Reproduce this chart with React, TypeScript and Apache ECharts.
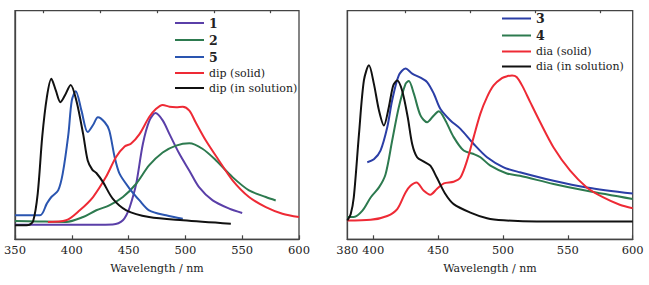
import React, { useEffect, useRef } from "react";
import * as echarts from "echarts";

// ---- Left panel data (wavelength / intensity, arbitrary units 0-100) ----
const wl1 = [350, 380, 420, 436, 441, 445, 448, 451, 456.7, 462.6, 468.4, 473.7, 480, 486, 494.7, 503.5, 512, 524, 538.6, 550];
const in1 = [6.4, 6.4, 6.4, 6.5, 7, 8.3, 10.5, 14, 24.3, 41.8, 52, 55.2, 52, 46, 37.4, 30, 22.8, 17, 13.4, 11.5];

const wl2 = [350, 370, 395, 410, 421.6, 433, 445, 456.7, 468, 480, 491.8, 503.5, 515, 527, 541.5, 556, 570.8, 579.5];
const in2 = [8, 7.8, 7.6, 9.75, 12.7, 14.8, 18.5, 24.3, 32.3, 38, 41, 42, 39.6, 34.5, 27.2, 21.4, 18.5, 17];

const wl5 = [350, 372, 378, 382, 388, 392, 397, 400, 403.5, 408.5, 414, 418.7, 423, 429, 433, 437.7, 442, 451, 459.6, 468, 483, 497.7];
const in5 = [10.5, 10.5, 15.6, 18.5, 21.4, 28.7, 46, 60.7, 64.8, 56.3, 46.9, 50, 53.4, 51.2, 47.6, 36, 28.7, 22.1, 17, 12.7, 10.5, 9];

const wlDipS = [379, 395, 407, 418.7, 430, 439, 446.5, 452, 459.6, 468, 474, 480, 486, 491.8, 497.7, 503.5, 509, 518, 529.5, 541.5, 556, 570.8, 585.4, 600];
const inDipS = [7.6, 8.3, 12.7, 18.5, 27.2, 36, 40.6, 41.8, 46, 53.4, 57, 58.8, 58, 57.8, 58, 56.3, 51.2, 43.2, 34.5, 25.8, 18.5, 14.1, 11.2, 9.75];

const wlDipL = [350, 362, 366, 370, 374, 378, 382, 386, 390, 394, 399, 404, 410, 414, 418, 421.6, 427.5, 436, 448, 468, 498, 540];
const inDipL = [6.1, 6.3, 8, 20, 45, 62, 70.2, 65, 60, 63, 67.5, 60.7, 46, 34.5, 30.5, 29, 25, 17.8, 12.7, 9.75, 8.3, 6.8];

// ---- Right panel data ----
const wl3 = [395.4, 400.5, 405.6, 410.8, 414.6, 419.7, 424.9, 430, 436.4, 441.5, 446.7, 451.8, 459.5, 467.2, 477.4, 487.7, 500.5, 513, 539, 564.6, 600];
const in3 = [33.7, 35, 38.8, 49, 60.8, 71.7, 74.7, 72.5, 70.7, 68.8, 63.7, 57, 52, 48.3, 41.7, 35.9, 31.5, 29.3, 25.6, 22.7, 20];

const wl4 = [380, 385, 391.5, 398, 404.4, 409.5, 414.6, 419.7, 424.9, 427.4, 431.3, 436.4, 441.5, 446.7, 450.5, 455.6, 462, 469.7, 477.4, 482.6, 490.3, 503, 513, 539, 564.6, 600];
const in4 = [9.8, 9.8, 12.4, 18.3, 22.7, 28.5, 43.2, 57.8, 68, 69.3, 63.7, 54.2, 51.2, 54.2, 56, 52, 44.7, 38.8, 37.3, 35.9, 32.2, 28.8, 27.8, 24.2, 21.2, 17.6];

const wlDiaS = [380, 398, 410.8, 418.5, 424.9, 428.7, 433.3, 439, 444, 449, 454.4, 462, 467.2, 472.3, 477.4, 482.6, 487.7, 492.8, 499.2, 503.5, 507, 510.5, 515, 521, 528.7, 539, 551.8, 564.6, 577.4, 590, 600];
const inDiaS = [8.2, 8.5, 10.2, 13.2, 20.5, 23.4, 24.9, 21.2, 19.5, 22, 24.5, 25.2, 27, 34.4, 44.7, 55, 62.2, 67.3, 70.5, 71.4, 71.7, 71, 67, 60, 51.2, 40.2, 30, 22.7, 18.3, 15.1, 13.6];

const wlDiaL = [380, 382.6, 385, 389, 392.8, 396.7, 400.5, 404.4, 408.2, 412, 415.4, 418.5, 422.3, 426.6, 430, 433.8, 439, 444, 449, 455.6, 462, 474.9, 487.7, 500.5, 526, 600];
const inDiaL = [8.2, 11, 18.3, 46, 69.5, 76.1, 68, 56.4, 49.8, 57.8, 67.3, 69.5, 65, 53.4, 41.7, 35.9, 34, 32.2, 27, 19.8, 15.4, 11.7, 9.2, 8.3, 7.8, 7.8];

// ---- Axis ticks ----
const leftMajor = [350, 400, 450, 500, 550, 600];
const leftMinor = [375, 425, 475, 525, 575];
const rightLabels = [380, 400, 450, 500, 550, 600];
const rightMajor = [400, 450, 500, 550, 600];
const rightMinor = [425, 475, 525, 575];

const FONT = "DejaVu Serif";
const TEXT = "#222";
const AXIS = "#444";
const FS = 11;

const zip = (xs: number[], ys: number[]) => xs.map((x, i) => [x, ys[i]]);

export default function App() {
  const ref = useRef<HTMLDivElement>(null);
  useEffect(() => {
    if (!ref.current) return;
    const chart = echarts.init(ref.current, undefined, { renderer: "svg" });

    const mainX = (gridIndex: number, min: number, max: number, labels: number[], ticks: number[]) => ({
      type: "value",
      gridIndex,
      min,
      max,
      name: "Wavelength / nm",
      nameLocation: "middle",
      nameGap: 24,
      nameTextStyle: { fontFamily: FONT, fontWeight: "normal", fontSize: FS, color: TEXT },
      axisLine: { show: true, lineStyle: { color: AXIS, width: 1.3 } },
      axisTick: { show: true, inside: true, length: 4, customValues: ticks, lineStyle: { color: AXIS, width: 1.2 } },
      axisLabel: { show: true, customValues: labels, margin: 4.5, fontFamily: FONT, fontWeight: "normal", fontSize: FS + 0.5, color: TEXT },
      splitLine: { show: false },
    });
    const minorX = (gridIndex: number, min: number, max: number, ticks: number[]) => ({
      type: "value",
      gridIndex,
      min,
      max,
      axisLine: { show: false },
      axisTick: { show: true, inside: true, length: 2.5, customValues: ticks, lineStyle: { color: AXIS, width: 1.2 } },
      axisLabel: { show: false },
      splitLine: { show: false },
    });
    const yAx = (gridIndex: number) => ({
      type: "value",
      gridIndex,
      min: 0,
      max: 100,
      axisLine: { show: true, lineStyle: { color: AXIS, width: 1.3 } },
      axisTick: { show: false },
      axisLabel: { show: false },
      splitLine: { show: false },
    });

    const line = (name: string, color: string, data: number[][], xAxisIndex: number, yAxisIndex: number) => ({
      type: "line",
      name,
      data,
      xAxisIndex,
      yAxisIndex,
      smooth: 0.3,
      showSymbol: false,
      symbol: "none",
      lineStyle: { color, width: 2 },
      itemStyle: { color },
    });

    const legendFmt = (name: string) => (/^\d+$/.test(name) ? `{b|${name}}` : `{n|${name}}`);
    const legendBase = {
      orient: "vertical",
      icon: "rect",
      itemWidth: 29,
      itemHeight: 2,
      itemGap: 4,
      padding: 0,
      formatter: legendFmt,
      textStyle: {
        fontFamily: FONT,
        fontSize: FS,
        color: TEXT,
        rich: {
          b: { fontFamily: FONT, fontSize: 12.5, fontWeight: "bold", color: TEXT },
          n: { fontFamily: FONT, fontSize: FS, fontWeight: "normal", color: TEXT },
        },
      },
    };

    chart.setOption({
      animation: false,
      backgroundColor: "#fff",
      grid: [
        { left: 15, right: 350, top: 10.7, bottom: 45.7, show: true, borderColor: AXIS, borderWidth: 1.3 },
        { left: 347.3, right: 16.3, top: 10.7, bottom: 45.7, show: true, borderColor: AXIS, borderWidth: 1.3 },
      ],
      xAxis: [
        mainX(0, 350, 600, leftMajor, leftMajor),
        minorX(0, 350, 600, leftMinor),
        mainX(1, 380, 600, rightLabels, rightMajor),
        minorX(1, 380, 600, rightMinor),
      ],
      yAxis: [yAx(0), yAx(1)],
      legend: [
        { ...legendBase, left: 175, top: 16.5, data: ["1", "2", "5", "dip (solid)", "dip (in solution)"] },
        { ...legendBase, left: 502, top: 12, data: ["3", "4", "dia (solid)", "dia (in solution)"] },
      ],
      series: [
        line("1", "#5a3fa8", zip(wl1, in1), 0, 0),
        line("2", "#2d7a4f", zip(wl2, in2), 0, 0),
        line("5", "#2a55b0", zip(wl5, in5), 0, 0),
        line("dip (solid)", "#ee2a35", zip(wlDipS, inDipS), 0, 0),
        line("dip (in solution)", "#111111", zip(wlDipL, inDipL), 0, 0),
        line("3", "#2b3ea6", zip(wl3, in3), 2, 1),
        line("4", "#2d7a4f", zip(wl4, in4), 2, 1),
        line("dia (solid)", "#ee2a35", zip(wlDiaS, inDiaS), 2, 1),
        line("dia (in solution)", "#111111", zip(wlDiaL, inDiaL), 2, 1),
      ],
    });
    return () => chart.dispose();
  }, []);
  return <div ref={ref} style={{ position: "absolute", left: 0, top: 0, width: 649, height: 285 }} />;
}
